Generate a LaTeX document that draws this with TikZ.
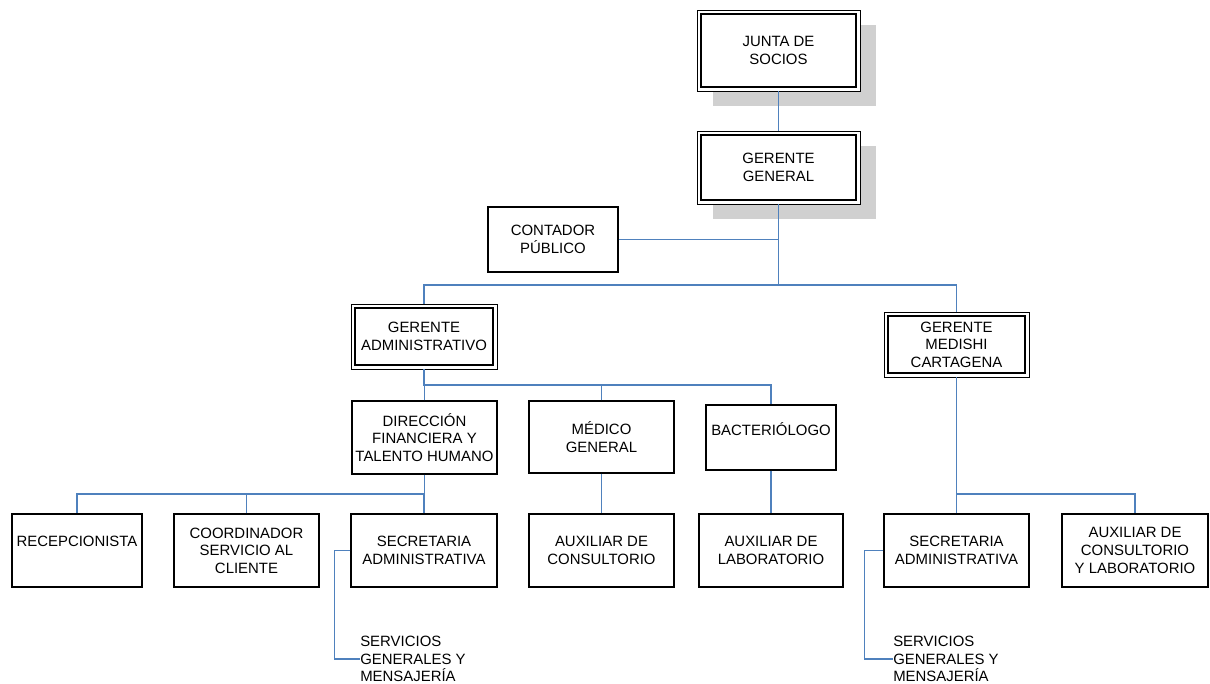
\documentclass[tikz,border=0pt]{standalone}
\usepackage{fontspec}
\setmainfont{Liberation Sans}
\usetikzlibrary{backgrounds,calc}
\definecolor{conncol}{RGB}{79,129,189}
\definecolor{shadowcol}{RGB}{208,208,208}
\tikzset{
  box/.style={draw=black, line width=0.9pt, fill=white, inner sep=0pt, align=center,
    font=\fontsize{11.2pt}{13.2pt}\selectfont, text=black},
  dbl/.style={box, line width=0.7pt,
    path picture={\draw[line width=1.3pt]
      ([shift={(4,4)}]path picture bounding box.north west) rectangle
      ([shift={(-4,-4)}]path picture bounding box.south east);}},
  sz/.style 2 args={minimum width=#1*0.75pt, minimum height=#2*0.75pt},
  plain/.style={inner sep=0pt, align=left, font=\fontsize{11.2pt}{13.2pt}\selectfont, text=black},
  conn/.style={draw=conncol, line width=1.1pt},
  shadowbox/.style={fill=shadowcol}
}
\begin{document}
\begin{tikzpicture}[x=0.75pt,y=-0.75pt]
\useasboundingbox (0,0) rectangle (1210,683);
% top level
\node[dbl, sz={163}{81}] (junta) at (778.5,50.5) {JUNTA DE\\SOCIOS};
\node[dbl, sz={163}{73}] (gg) at (778.5,167.5) {GERENTE\\GENERAL};
\node[box, sz={130}{65}] (contador) at (553,239.5) {CONTADOR\\PÚBLICO};
% second level
\node[dbl, sz={146}{65}] (gadm) at (424,336.5) {GERENTE\\ADMINISTRATIVO};
\node[dbl, sz={145}{65}] (gmed) at (956.5,344.5) {GERENTE\\MEDISHI\\CARTAGENA};
% third level
\node[box, sz={145}{73}] (dir) at (424.5,437.5) {DIRECCIÓN\\FINANCIERA Y\\TALENTO HUMANO};
\node[box, sz={145}{72}] (med) at (601.5,437) {MÉDICO\\GENERAL};
\node[box, sz={130}{65}] (bact) at (771,437.5) {BACTERIÓLOGO\\\phantom{X}};
% bottom row
\node[box, sz={130}{73}] (recep) at (77,550.5) {RECEPCIONISTA\\\phantom{X}};
\node[box, sz={145}{73}] (coord) at (246.5,550.5) {COORDINADOR\\SERVICIO AL\\CLIENTE};
\node[box, sz={146}{73}] (sec1) at (424,550.5) {SECRETARIA\\ADMINISTRATIVA};
\node[box, sz={145}{73}] (auxc) at (601.5,550.5) {AUXILIAR DE\\CONSULTORIO};
\node[box, sz={144}{73}] (auxl) at (771,550.5) {AUXILIAR DE\\LABORATORIO};
\node[box, sz={145}{73}] (sec2) at (956.5,550.5) {SECRETARIA\\ADMINISTRATIVA};
\node[box, sz={146}{73}] (auxcl) at (1135,550.5) {AUXILIAR DE\\CONSULTORIO\\Y LABORATORIO};
% servicios generales
\node[plain, anchor=west] (serv1) at (360,659) {SERVICIOS\\GENERALES Y\\MENSAJERÍA};
\node[plain, anchor=west] (serv2) at (893,659) {SERVICIOS\\GENERALES Y\\MENSAJERÍA};
% junctions
\coordinate (j1) at (779,285);
\coordinate (j2) at (424,385);
\coordinate (j3) at (424,494);
% shadows
\begin{scope}[on background layer]
  \fill[shadowbox] ($(junta.north west)+(16,15)$) rectangle ($(junta.south east)+(16,15)$);
  \fill[shadowbox] ($(gg.north west)+(16,15)$) rectangle ($(gg.south east)+(16,15)$);
\end{scope}
% connectors
\draw[conn] (junta.south) -- (gg.north);
\draw[conn] (gg.south) -- (gg.south |- j1);
\draw[conn] (contador.east) -- (contador.east -| gg.south);
\draw[conn] (gadm.north) |- (gg.south |- j1) -| (gmed.north);
\draw[conn] (gadm.south) -- (gadm.south |- j2) -| (bact.north);
\draw[conn] (dir.north) -- (dir.north |- j2);
\draw[conn] (med.north) -- (med.north |- j2);
\draw[conn] (dir.south) -- (dir.south |- j3) -| (recep.north);
\draw[conn] (coord.north) -- (coord.north |- j3);
\draw[conn] (sec1.north) -- (sec1.north |- j3);
\draw[conn] (med.south) -- (auxc.north);
\draw[conn] (bact.south) -- (auxl.north);
\draw[conn] (gmed.south) -- (gmed.south |- j3) -| (auxcl.north);
\draw[conn] (sec2.north) -- (sec2.north |- j3);
\draw[conn] (sec1.west) -- ++(-16,0) |- (serv1.west);
\draw[conn] (sec2.west) -- ++(-19,0) |- (serv2.west);
\end{tikzpicture}
\end{document}
